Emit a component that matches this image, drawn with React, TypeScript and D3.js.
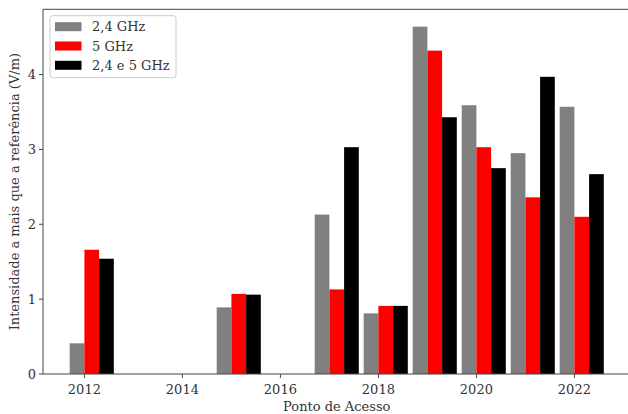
import React from "react";
import * as d3 from "d3";

// Access-point groups (positioned on a numeric year axis)
const groups = [2012, 2015, 2017, 2018, 2019, 2020, 2021, 2022];
const series = ["2,4 GHz", "5 GHz", "2,4 e 5 GHz"];
const ghz24 = [0.41, 0.89, 2.13, 0.81, 4.64, 3.59, 2.95, 3.57];
const ghz5 = [1.66, 1.07, 1.13, 0.91, 4.32, 3.03, 2.36, 2.10];
const ghzBoth = [1.54, 1.06, 3.03, 0.91, 3.43, 2.75, 3.97, 2.67];
const colors = ["#808080", "#ff0000", "#000000"];
const xTicks = [2012, 2014, 2016, 2018, 2020, 2022];
const yTicks = [0, 1, 2, 3, 4];

const W = 628;
const H = 414;
const barW = 0.3;
const font = "'DejaVu Serif', serif";
const fs = 13;

export default function App() {
  const values = [ghz24, ghz5, ghzBoth];
  const xMin = d3.min(groups)! - barW;
  const xMax = d3.max(groups)! + 2 * barW;
  const pad = (xMax - xMin) * 0.05;
  const yMax = d3.max(values.flat())! * 1.05;

  const x = d3.scaleLinear().domain([xMin - pad, xMax + pad]).range([43, 630.5]);
  const y = d3.scaleLinear().domain([0, yMax]).range([374, 9.3]);
  const [left, right] = x.range();
  const [bottom, top] = y.range();
  const axisColor = "#444";
  const textColor = "#333";

  return (
    <svg width={W} height={H} style={{ position: "absolute", left: 0, top: 0, background: "#fff" }}>
      {values.map((vals, si) =>
        vals.map((v, i) => {
          const x0 = x(groups[i] + (si - 1) * barW);
          const x1 = x(groups[i] + si * barW);
          return (
            <rect
              key={`${si}-${i}`}
              x={x0}
              y={y(v)}
              width={x1 - x0}
              height={bottom - y(v)}
              fill={colors[si]}
            />
          );
        })
      )}
      {/* spines */}
      <line x1={left} x2={left} y1={top} y2={bottom} stroke={axisColor} strokeWidth={1} />
      <line x1={left} x2={right} y1={bottom} y2={bottom} stroke={axisColor} strokeWidth={1} />
      <line x1={left} x2={right} y1={top} y2={top} stroke={axisColor} strokeWidth={1} />
      <line x1={right} x2={right} y1={top} y2={bottom} stroke={axisColor} strokeWidth={1} />
      {/* x ticks */}
      {xTicks.map((t) => (
        <g key={t}>
          <line x1={x(t)} x2={x(t)} y1={bottom} y2={bottom + 4} stroke={axisColor} />
          <text x={x(t)} y={bottom + 20} textAnchor="middle" fontFamily={font} fontSize={fs} fill={textColor}>
            {t}
          </text>
        </g>
      ))}
      {/* y ticks */}
      {yTicks.map((t) => (
        <g key={t}>
          <line x1={left - 4} x2={left} y1={y(t)} y2={y(t)} stroke={axisColor} />
          <text x={left - 7} y={y(t)} dy="0.35em" textAnchor="end" fontFamily={font} fontSize={fs} fill={textColor}>
            {t}
          </text>
        </g>
      ))}
      <text x={(left + right) / 2} y={411} textAnchor="middle" fontFamily={font} fontSize={fs} fill={textColor}>
        Ponto de Acesso
      </text>
      <text
        transform={`translate(14, ${(top + bottom) / 2}) rotate(-90)`}
        dy="0.35em"
        textAnchor="middle"
        fontFamily={font}
        fontSize={fs}
        fill={textColor}
      >
        Intensidade a mais que a referência (V/m)
      </text>
      {/* legend */}
      <g transform="translate(50, 15.7)">
        <rect x={0} y={0} width={126} height={62} rx={2.5} fill="#fff" fillOpacity={0.8} stroke="#ccc" />
        {series.map((s, i) => (
          <g key={s} transform={`translate(0, ${11 + i * 19.3})`}>
            <rect x={5} y={-4.5} width={26.5} height={9} fill={colors[i]} />
            <text x={42} y={0} dy="0.35em" fontFamily={font} fontSize={fs} fill={textColor}>
              {s}
            </text>
          </g>
        ))}
      </g>
    </svg>
  );
}
